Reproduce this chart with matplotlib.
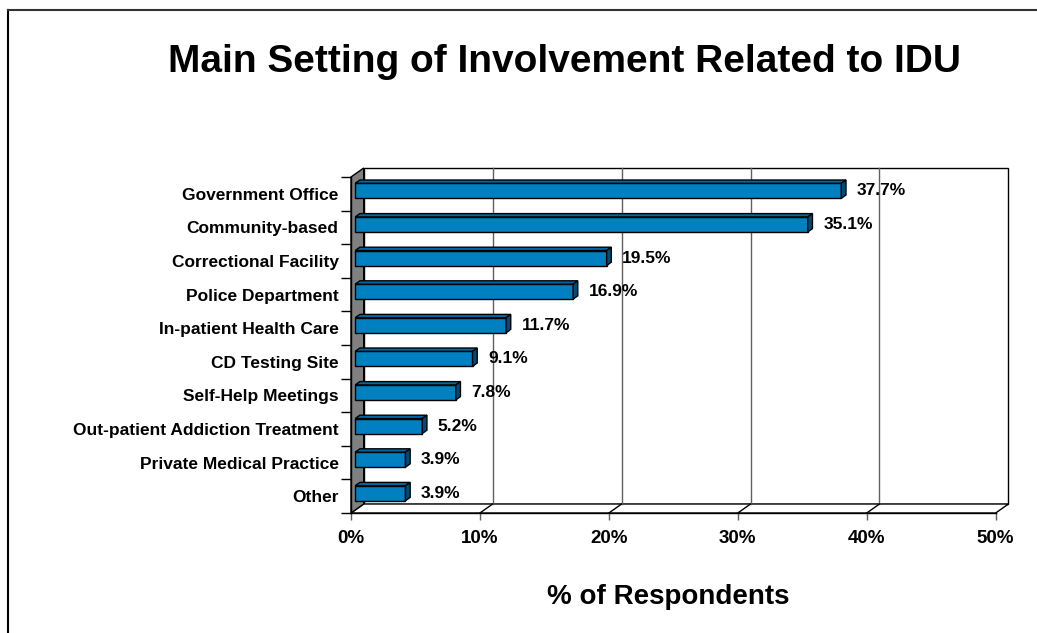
'''
Main setting of involvement related to IDU - 3D style horizontal bar chart
'''

import matplotlib
matplotlib.use('Agg')
import matplotlib.pyplot as plt
from matplotlib.patches import Polygon
from matplotlib.lines import Line2D

settings = ['Government Office', 'Community-based', 'Correctional Facility',
            'Police Department', 'In-patient Health Care', 'CD Testing Site',
            'Self-Help Meetings', 'Out-patient Addiction Treatment',
            'Private Medical Practice', 'Other']
percent = [37.7, 35.1, 19.5, 16.9, 11.7, 9.1, 7.8, 5.2, 3.9, 3.9]
x_ticks = [0, 10, 20, 30, 40, 50]
x_tick_labels = ['0%', '10%', '20%', '30%', '40%', '50%']

plt.rcParams['font.family'] = ['Liberation Sans', 'DejaVu Sans']
plt.rcParams['font.weight'] = 'bold'

W, H = 1037, 633
fig = plt.figure(figsize=(W / 100, H / 100), dpi=100)

# front plane of the plot area, in pixels
left_px, right_px, top_px, bottom_px = 351, 995.7, 177, 513
ax = fig.add_axes([left_px / W, 1 - bottom_px / H,
                   (right_px - left_px) / W, (bottom_px - top_px) / H])
n = len(settings)
ax.set_xlim(0, 50)
ax.set_ylim(n - 0.5, -0.5)
ax.patch.set_visible(False)

px_x = (right_px - left_px) / 50
px_y = (bottom_px - top_px) / n
DX = 12.7 / px_x        # depth shift in data units
DY = -9.0 / px_y

# back wall
ax.add_patch(Polygon([(DX, -0.5 + DY), (50 + DX, -0.5 + DY),
                      (50 + DX, n - 0.5 + DY), (DX, n - 0.5 + DY)],
                     closed=True, facecolor='white', edgecolor='black',
                     lw=1, clip_on=False, zorder=1))
# floor
ax.add_patch(Polygon([(0, n - 0.5), (50, n - 0.5),
                      (50 + DX, n - 0.5 + DY), (DX, n - 0.5 + DY)],
                     closed=True, facecolor='white', edgecolor='black',
                     lw=1, clip_on=False, zorder=1))
# grid lines on wall and floor
for t in x_ticks[1:-1]:
    ax.plot([t + DX, t + DX], [-0.5 + DY, n - 0.5 + DY], color='#606060',
            lw=1, clip_on=False, zorder=1.5)
    ax.plot([t, t + DX], [n - 0.5, n - 0.5 + DY], color='black',
            lw=1, clip_on=False, zorder=1.5)
# left side wall
ax.add_patch(Polygon([(0, -0.5), (DX, -0.5 + DY), (DX, n - 0.5 + DY),
                      (0, n - 0.5)],
                     closed=True, facecolor='#808080', edgecolor='black',
                     lw=1, clip_on=False, zorder=2))

# bars
f0, f1 = 0.33, 0.70
half = 7.5 / px_y
ddx, ddy = (f1 - f0) * DX, (f1 - f0) * DY
for i, v in enumerate(percent):
    x0 = f0 * DX
    x1 = v + f0 * DX
    yc = i + f0 * DY
    ax.add_patch(Polygon([(x0, yc - half), (x1, yc - half),
                          (x1, yc + half), (x0, yc + half)],
                         closed=True, facecolor='#0080C0',
                         edgecolor='black', lw=1, zorder=3, clip_on=False))
    ax.add_patch(Polygon([(x0, yc - half), (x1, yc - half),
                          (x1 + ddx, yc - half + ddy),
                          (x0 + ddx, yc - half + ddy)],
                         closed=True, facecolor='#0068A0',
                         edgecolor='black', lw=1, zorder=3, clip_on=False))
    ax.add_patch(Polygon([(x1, yc - half), (x1, yc + half),
                          (x1 + ddx, yc + half + ddy),
                          (x1 + ddx, yc - half + ddy)],
                         closed=True, facecolor='#004C78',
                         edgecolor='black', lw=1, zorder=3, clip_on=False))
    ax.text(v + f1 * DX + 0.85, yc, f'{v:.1f}%', ha='left', va='center',
            fontsize=12.5, fontweight='bold', zorder=4)

# axes
for side in ['top', 'right']:
    ax.spines[side].set_visible(False)
for side in ['left', 'bottom']:
    ax.spines[side].set_zorder(2.5)
    ax.spines[side].set_linewidth(1)

ax.set_xticks(x_ticks)
ax.set_xticklabels(x_tick_labels, fontsize=13.5, fontweight='bold')
ax.tick_params(axis='x', length=5, width=1, color='#606060', pad=7)

ax.set_yticks([k - 0.5 for k in range(n + 1)])
ax.set_yticklabels([])
ax.set_yticks(range(n), minor=True)
ax.set_yticklabels(settings, minor=True, fontsize=12.5, fontweight='bold')
ax.tick_params(axis='y', which='major', length=7, width=1)
ax.tick_params(axis='y', which='minor', length=0, pad=9)

fig.text(564 / W, 1 - 62 / H, 'Main Setting of Involvement Related to IDU',
         ha='center', va='center', fontsize=28, fontweight='bold')
fig.text(668 / W, 1 - 597 / H, '% of Respondents',
         ha='center', va='center', fontsize=20, fontweight='bold')

# chart area border
fig.add_artist(Line2D([8 / W, 8 / W], [0, 1 - 10 / H], color='black',
                      lw=1.5, transform=fig.transFigure))
fig.add_artist(Line2D([8 / W, 1], [1 - 10 / H, 1 - 10 / H], color='#333333',
                      lw=1.5, transform=fig.transFigure))

fig.savefig('out.png', dpi=100)
